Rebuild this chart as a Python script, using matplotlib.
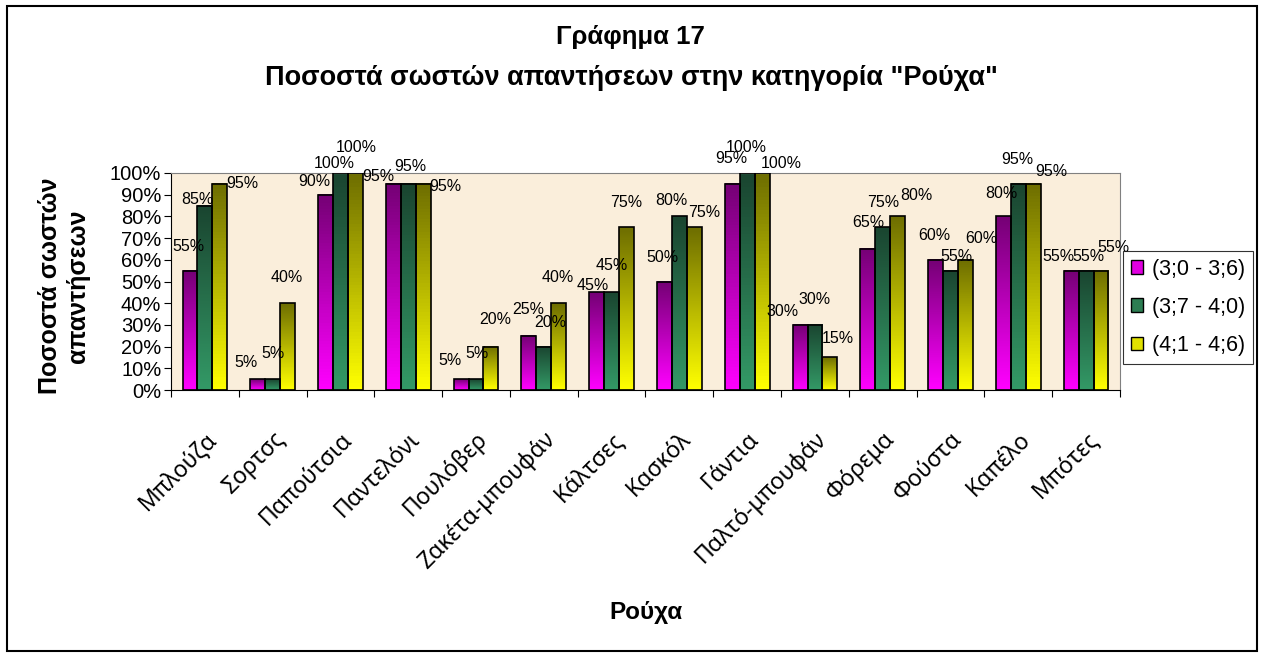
import matplotlib
matplotlib.use("Agg")
import matplotlib.pyplot as plt
import numpy as np
from matplotlib.colors import LinearSegmentedColormap
from matplotlib.patches import Rectangle, Patch
from matplotlib.transforms import ScaledTranslation

plt.rcParams['font.family'] = ['Liberation Sans', 'DejaVu Sans']

categories = ['Μπλούζα', 'Σορτσς', 'Παπούτσια', 'Παντελόνι', 'Πουλόβερ', 'Ζακέτα-μπουφάν',
              'Κάλτσες', 'Κασκόλ', 'Γάντια', 'Παλτό-μπουφάν', 'Φόρεμα', 'Φούστα', 'Καπέλο', 'Μπότες']
series_names = ['(3;0 - 3;6)', '(3;7 - 4;0)', '(4;1 - 4;6)']
age_30_36 = [55, 5, 90, 95, 5, 25, 45, 50, 95, 30, 65, 60, 80, 55]
age_37_40 = [85, 5, 100, 95, 5, 20, 45, 80, 100, 30, 75, 55, 95, 55]
age_41_46 = [95, 40, 100, 95, 20, 40, 75, 75, 100, 15, 80, 60, 95, 55]
series = [age_30_36, age_37_40, age_41_46]

# where excel left the value labels: (dx, dy) in pixels from the bar top
label_shift = [
    [(-2, 24), (-12, 17), (-11, 13), (-15, 7), (-11, 19), (-1, 26), (-4, 7),
     (-2, 24), (-1, 25), (-18, 13), (0, 26), (-1, 24), (-2, 23), (-13, 14)],
    [(-8, 6), (0, 26), (-6, 10), (2, 17), (1, 26), (6, 24), (0, 27),
     (-8, 16), (-1, 25), (0, 25), (0, 25), (6, 14), (-1, 24), (2, 14)],
    [(23, 0), (-1, 26), (1, 25), (22, -3), (4, 27), (-1, 26), (0, 25),
     (10, 15), (19, 10), (8, 19), (19, 21), (16, 21), (18, 12), (12, 23)],
]

# (top colour, bottom colour) of each gradient
grads = [('#750075', '#ff00ff'), ('#1a4530', '#339966'), ('#6e6e00', '#ffff00')]
legend_cols = ['#e000e0', '#2c7d52', '#e0e000']

W, H = 1261, 657
fig = plt.figure(figsize=(W / 100, H / 100), dpi=100)
ax = fig.add_axes([171 / W, 1 - 390 / H, 949 / W, 217 / H])
ax.set_facecolor('#faeedb')

n = len(categories)
x = np.arange(n)
bw = 0.22
for k, vals in enumerate(series):
    cmap = LinearSegmentedColormap.from_list('g%d' % k, [grads[k][1], grads[k][0]])
    for i, v in enumerate(vals):
        x0 = x[i] + (k - 1.5) * bw
        ax.imshow(np.linspace(0, 1, 64).reshape(-1, 1), cmap=cmap, origin='lower',
                  extent=[x0, x0 + bw, 0, v], aspect='auto', zorder=2)
        ax.add_patch(Rectangle((x0, 0), bw, v, fill=False, edgecolor='black', lw=1.2, zorder=3))
        dx, dy = label_shift[k][i]
        ax.annotate('%d%%' % v, (x0 + bw / 2, v), xytext=(dx, dy), textcoords='offset pixels',
                    ha='center', va='center', fontsize=11.5, zorder=4, annotation_clip=False)

ax.set_xlim(-0.5, n - 0.5)
ax.set_ylim(0, 100)
ax.set_yticks(np.arange(0, 101, 10))
ax.set_yticklabels(['%d%%' % t for t in range(0, 101, 10)], fontsize=14.5)
ax.set_xticks(np.arange(-0.5, n, 1))
ax.set_xticklabels([])
ax.set_xticks(x, minor=True)
ax.set_xticklabels(categories, minor=True, rotation=45, ha='right', va='top',
                   rotation_mode='anchor', fontsize=16.5, family='Noto Sans')
shift = ScaledTranslation(-9 / 100, 0, fig.dpi_scale_trans)
for lab in ax.get_xticklabels(minor=True):
    lab.set_transform(lab.get_transform() + shift)
ax.tick_params(axis='x', which='minor', length=0, pad=27)
ax.tick_params(axis='x', which='major', length=5, direction='out')
ax.tick_params(axis='y', length=5, direction='out', pad=2)
for s in ['top', 'right']:
    ax.spines[s].set_color('#808080')
for s in ['left', 'bottom']:
    ax.spines[s].set_color('black')

fig.text(630 / W, 1 - 37 / H, 'Γράφημα 17', ha='center', va='center', fontsize=18.5, fontweight='bold')
fig.text(631 / W, 1 - 78 / H, 'Ποσοστά σωστών απαντήσεων στην κατηγορία "Ρούχα"',
         ha='center', va='center', fontsize=19.5, fontweight='bold')
fig.text(646 / W, 1 - 613 / H, 'Ρούχα', ha='center', va='center', fontsize=17.5, fontweight='bold')
fig.text(64 / W, 1 - 286 / H, 'Ποσοστά σωστών\nαπαντήσεων', ha='center', va='center',
         rotation=90, fontsize=18, fontweight='bold', linespacing=1.2)

handles = [Patch(facecolor=c, edgecolor='black') for c in legend_cols]
leg = fig.legend(handles, series_names, loc='upper left', bbox_to_anchor=(1123 / W, 1 - 251 / H),
                 fontsize=15.5, frameon=True, fancybox=False, handlelength=0.6, handleheight=0.6,
                 labelspacing=0.8, borderpad=0.35, handletextpad=0.4, borderaxespad=0)
leg.get_frame().set_edgecolor('black')
leg.get_frame().set_linewidth(0.8)

fig.add_artist(Rectangle((7 / W, 6 / H), 1250 / W, 645 / H, transform=fig.transFigure,
                         fill=False, edgecolor='black', lw=1.5))

fig.savefig('out.png', dpi=100)
